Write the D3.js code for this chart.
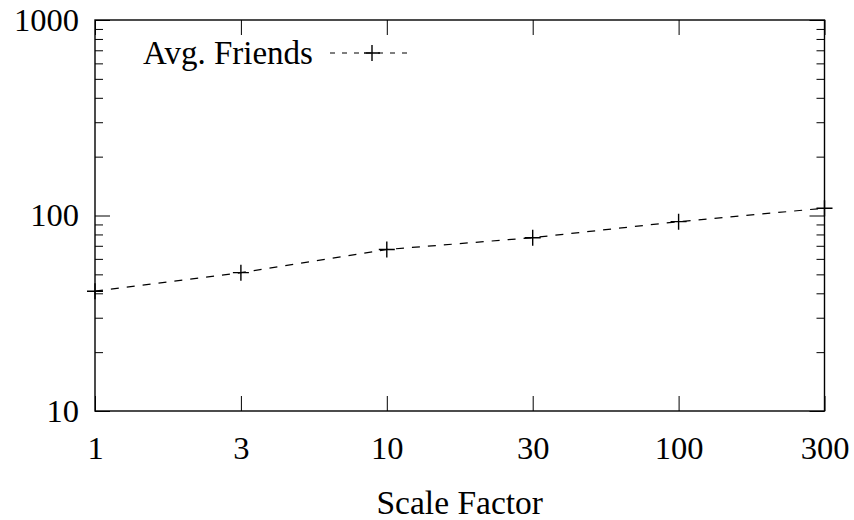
<!DOCTYPE html>
<html>
<head>
<meta charset="utf-8">
<script src="https://cdn.jsdelivr.net/npm/d3@7"></script>
<style>
  html, body { margin: 0; padding: 0; background: #fff; }
  svg { display: block; font-family: "Liberation Serif", "Times New Roman", serif; }
</style>
</head>
<body>
<svg id="chart" width="854" height="520"></svg>
<script>
// Scale factors along the x axis (evenly spaced categories)
const scaleFactors = ["1", "3", "10", "30", "100", "300"];
// Average number of friends per scale factor
const avgFriends = [41, 51, 67, 77, 93, 109];
// Y axis tick labels (log scale decades)
const yMajorTicks = [10, 100, 1000];
const yMinorTicks = [20, 30, 40, 50, 60, 70, 80, 90, 200, 300, 400, 500, 600, 700, 800, 900];
const seriesName = "Avg. Friends";
const xTitle = "Scale Factor";

const svg = d3.select("#chart");
const plotLeft = 95, plotRight = 824.5, plotTop = 20, plotBottom = 411;
const tickFontSize = 32.5, legendFontSize = 33, titleFontSize = 33.5;

const x = d3.scalePoint().domain(scaleFactors).range([plotLeft, plotRight]).padding(0);
const y = d3.scaleLog().domain([10, 1000]).range([plotBottom, plotTop]);

const majorLen = 15, minorLen = 8;

function styleAxis(g) {
  g.select(".domain").remove();
  g.selectAll(".tick line").attr("stroke", "#000").attr("stroke-width", 1);
  g.selectAll(".tick text")
    .attr("fill", "#000")
    .style("font-size", tickFontSize + "px")
    .style("font-family", "'Liberation Serif', serif");
}

// Bottom axis (labels) and mirrored top ticks
svg.append("g")
  .attr("transform", `translate(0,${plotBottom})`)
  .call(d3.axisBottom(x).tickSize(-majorLen).tickPadding(25))
  .call(styleAxis);
svg.append("g")
  .attr("transform", `translate(0,${plotTop})`)
  .call(d3.axisTop(x).tickSize(-majorLen).tickFormat(""))
  .call(styleAxis);

// Left axis with labels, major + minor ticks
svg.append("g")
  .attr("transform", `translate(${plotLeft},0)`)
  .call(d3.axisLeft(y).tickValues(yMajorTicks).tickFormat(d3.format("d")).tickSize(-majorLen).tickPadding(16))
  .call(styleAxis);
svg.append("g")
  .attr("transform", `translate(${plotLeft},0)`)
  .call(d3.axisLeft(y).tickValues(yMinorTicks).tickFormat("").tickSize(-minorLen))
  .call(styleAxis);

// Right axis ticks (mirrored)
svg.append("g")
  .attr("transform", `translate(${plotRight},0)`)
  .call(d3.axisRight(y).tickValues(yMajorTicks).tickFormat("").tickSize(-majorLen))
  .call(styleAxis);
svg.append("g")
  .attr("transform", `translate(${plotRight},0)`)
  .call(d3.axisRight(y).tickValues(yMinorTicks).tickFormat("").tickSize(-minorLen))
  .call(styleAxis);

// Plot frame
svg.append("rect")
  .attr("x", plotLeft).attr("y", plotTop)
  .attr("width", plotRight - plotLeft).attr("height", plotBottom - plotTop)
  .attr("fill", "none").attr("stroke", "#000").attr("stroke-width", 1.4);

// Data line
const data = scaleFactors.map((s, i) => ({ s, v: avgFriends[i] }));
const line = d3.line().x(d => x(d.s)).y(d => y(d.v));
svg.append("path")
  .datum(data)
  .attr("d", line)
  .attr("fill", "none")
  .attr("stroke", "#000")
  .attr("stroke-width", 1.2)
  .attr("stroke-dasharray", "8,8");

// Plus markers
const m = 8;
const marks = svg.append("g").attr("stroke", "#000").attr("stroke-width", 1.4);
marks.selectAll("path.mark")
  .data(data)
  .join("path")
  .attr("class", "mark")
  .attr("d", d => {
    const cx = x(d.s), cy = y(d.v);
    return `M${cx - m},${cy}H${cx + m}M${cx},${cy - m}V${cy + m}`;
  });

// Legend
const lg = svg.append("g");
lg.append("text")
  .attr("x", 143).attr("y", 64)
  .style("font-size", legendFontSize + "px")
  .text(seriesName);
lg.append("line")
  .attr("x1", 330).attr("x2", 414).attr("y1", 53).attr("y2", 53)
  .attr("stroke", "#000").attr("stroke-width", 1.2)
  .attr("stroke-dasharray", "5,7");
lg.append("path")
  .attr("d", `M${372 - m},53H${372 + m}M372,${53 - m}V${53 + m}`)
  .attr("stroke", "#000").attr("stroke-width", 1.4);

// X axis title
svg.append("text")
  .attr("x", (plotLeft + plotRight) / 2).attr("y", 514)
  .attr("text-anchor", "middle")
  .style("font-size", titleFontSize + "px")
  .text(xTitle);
</script>
</body>
</html>
